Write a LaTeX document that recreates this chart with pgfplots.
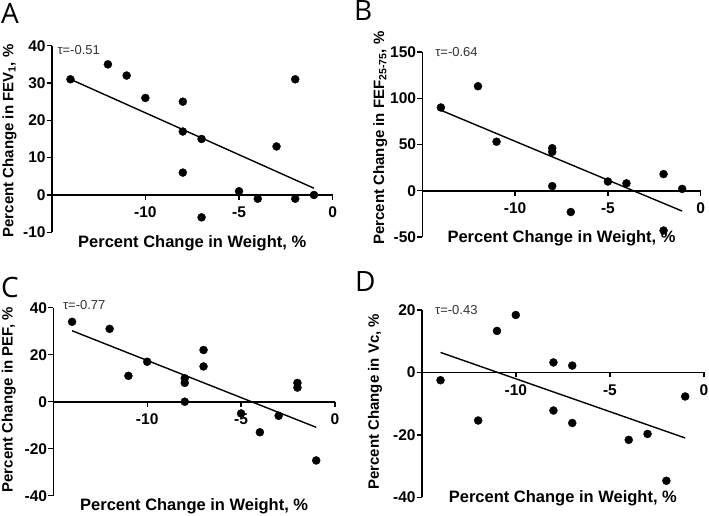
\documentclass[border=0pt]{standalone}
\usepackage{pgfplots}
\pgfplotsset{compat=1.18}
\usepackage{fontspec}
\setmainfont{Liberation Sans}
\newfontfamily\letterfont{Open Sans}
\definecolor{taugray}{RGB}{50,50,50}
\pgfplotsset{
  prism/.style={
    scale only axis,
    axis x line*=middle,
    axis y line*=left,
    hide obscured x ticks=false,
    hide obscured y ticks=false,
    xmin=-15, xmax=0,
    xtick={-10,-5,0},
    tick align=outside,
    major tick length=5pt,
    minor tick num=0,
    axis line style={line width=1.6pt},
    every tick/.style={line width=1.4pt, black},
    tick label style={font=\fontsize{15.5}{16}\selectfont\bfseries, inner sep=1pt},
    xticklabel style={yshift=-6pt},
    /pgf/number format/assume math mode=true,
    label style={font=\fontsize{15}{16}\selectfont\bfseries},
    xlabel style={font=\fontsize{16.5}{17}\selectfont\bfseries},
    xlabel={Percent Change in Weight, \%},
    clip=false,
  },
  pts/.style={only marks, mark=*, mark size=4pt, black},
  fit/.style={no marks, black, line width=1.4pt},
}
\tikzset{
  tau/.style={anchor=west, font=\fontsize{13}{14}\selectfont, text=taugray, inner sep=0pt},
  letter/.style={anchor=base west, inner sep=0pt, font=\fontsize{28}{30}\selectfont\letterfont},
}
\begin{document}
\begin{tikzpicture}
\useasboundingbox (0,0) rectangle (709pt,516pt);
% Panel A
\begin{axis}[prism, at={(51.7pt,283.7pt)}, anchor=south west, width=281pt, height=186.6pt,
  ymin=-10, ymax=40, ytick={-10,0,10,20,30,40},
  xlabel style={at={(axis description cs:0.5,0)}, anchor=center, yshift=-11pt},
  ylabel style={at={(axis description cs:-0.15,0.49)}, anchor=center},
  ylabel={Percent Change in FEV\textsubscript{1}, \%}]
\addplot[pts] coordinates {(-14,31) (-12,35) (-11,32) (-10,26) (-8,25) (-8,17) (-8,6) (-7,15) (-7,-6) (-5,1) (-4,-1) (-3,13) (-2,31) (-2,-1) (-1,0)};
\addplot[fit] coordinates {(-14,31) (-1,1.8)};
\node[tau] at (rel axis cs:0.02,0.977) {τ=-0.51};
\end{axis}
% Panel B
\begin{axis}[prism, at={(422.3pt,279pt)}, anchor=south west, width=278.4pt, height=185pt,
  ymin=-50, ymax=150, ytick={-50,0,50,100,150},
  xlabel style={at={(axis description cs:0.5,0)}, anchor=center, yshift=-1pt},
  ylabel style={at={(axis description cs:-0.151,0.535)}, anchor=center},
  ylabel={Percent Change in FEF\textsubscript{25-75}, \%}]
\addplot[pts] coordinates {(-14,90) (-12,113) (-11,53) (-8,46) (-8,42) (-8,5) (-7,-23) (-5,10) (-4,8) (-2,18) (-2,-43) (-1,2)};
\addplot[fit] coordinates {(-14,87) (-1,-22)};
\node[tau] at (rel axis cs:0.046,1.0) {τ=-0.64};
\end{axis}
% Panel C
\begin{axis}[prism, at={(53.3pt,20.3pt)}, anchor=south west, width=281.7pt, height=188pt,
  ymin=-40, ymax=40, ytick={-40,-20,0,20,40},
  xlabel style={at={(axis description cs:0.5,0)}, anchor=center, yshift=-11pt},
  ylabel style={at={(axis description cs:-0.158,0.51)}, anchor=center},
  ylabel={Percent Change in PEF, \%}]
\addplot[pts] coordinates {(-14,34) (-12,31) (-11,11) (-10,17) (-8,10) (-8,8) (-8,0) (-7,22) (-7,15) (-5,-5) (-4,-13) (-3,-6) (-2,8) (-2,6) (-1,-25)};
\addplot[fit] coordinates {(-14,30.2) (-1,-10.9)};
\node[tau] at (rel axis cs:0.034,1.016) {τ=-0.77};
\end{axis}
% Panel D
\begin{axis}[prism, at={(421.7pt,18.7pt)}, anchor=south west, width=282.3pt, height=187.3pt,
  ymin=-40, ymax=20, ytick={-40,-20,0,20},
  xlabel style={at={(axis description cs:0.5,0)}, anchor=center, yshift=-1pt},
  ylabel style={at={(axis description cs:-0.165,0.51)}, anchor=center},
  ylabel={Percent Change in Vc, \%}]
\addplot[pts] coordinates {(-14,-2.5) (-12,-15.4) (-11,13.3) (-10,18.4) (-8,3.2) (-8,-12.2) (-7,2.2) (-7,-16.2) (-4,-21.6) (-3,-19.7) (-2,-34.7) (-1,-7.7)};
\addplot[fit] coordinates {(-14,6.4) (-1,-21)};
\node[tau] at (rel axis cs:0.047,1.0) {τ=-0.43};
\end{axis}
% Panel letters
\node[letter] at (1pt,492.7pt) {A};
\node[letter] at (354pt,495.3pt) {B};
\node[letter] at (1pt,218.7pt) {C};
\node[letter] at (355pt,224.7pt) {D};
\end{tikzpicture}
\end{document}
